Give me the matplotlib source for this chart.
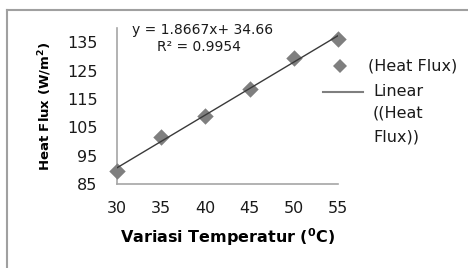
import matplotlib
matplotlib.use("Agg")
import matplotlib.pyplot as plt
import numpy as np
from matplotlib.lines import Line2D

# Data
temperature = [30, 35, 40, 45, 50, 55]
heat_flux = [89.5, 101.5, 109, 118.5, 129.5, 136]
y_ticks = [85, 95, 105, 115, 125, 135]
x_ticks = [30, 35, 40, 45, 50, 55]


def main():
    plt.rcParams['font.family'] = ['DejaVu Sans']
    W, H = 468, 268
    fig = plt.figure(figsize=(W / 100, H / 100), dpi=100)
    ax = fig.add_axes([117 / W, (H - 184) / H, (338 - 117) / W, (184 - 28) / H])

    # Scatter points and linear trend line
    ax.scatter(temperature, heat_flux, marker='D', s=70, color='#7f7f7f',
               zorder=3, clip_on=False, linewidths=0)
    slope, intercept = np.polyfit(temperature, heat_flux, 1)
    xs = np.array([temperature[0], temperature[-1]])
    ax.plot(xs, slope * xs + intercept, color='#3a3a3a', lw=1.0, zorder=4)

    ax.set_xlim(30, 55)
    ax.set_ylim(85, 140)
    ax.set_xticks(x_ticks)
    ax.set_yticks(y_ticks)
    ax.tick_params(length=0, labelsize=11.5, colors='#1a1a1a')
    ax.tick_params(axis='y', pad=14)
    ax.tick_params(axis='x', pad=12)
    for side in ['top', 'right']:
        ax.spines[side].set_visible(False)
    for side in ['left', 'bottom']:
        ax.spines[side].set_color('#a6a6a6')
        ax.spines[side].set_linewidth(1.2)

    ax.set_xlabel('Variasi Temperatur ($^{\\mathbf{0}}$C)', fontsize=11.5,
                  fontweight='bold', labelpad=8)
    ax.set_ylabel('Heat Flux (W/m$^{\\mathbf{2}}$)', fontsize=9.5,
                  fontweight='bold', labelpad=9)

    # Trendline equation
    fig.text(203 / W, 1 - 30 / H, 'y = 1.8667x+ 34.66', fontsize=10,
             ha='center', va='center', color='#1a1a1a')
    fig.text(199 / W, 1 - 47 / H, 'R² = 0.9954', fontsize=10,
             ha='center', va='center', color='#1a1a1a')

    # Manual legend
    fig.add_artist(Line2D([340 / W], [1 - 66 / H], marker='D', markersize=7,
                          color='#7f7f7f', markeredgewidth=0, linestyle='none'))
    fig.add_artist(Line2D([323 / W, 363 / W], [1 - 92 / H, 1 - 92 / H],
                          color='#7f7f7f', lw=1.5))
    fig.text(368 / W, 1 - 66 / H, '(Heat Flux)', fontsize=11.5, va='center',
             color='#1a1a1a')
    for text, y in [('Linear', 92), ('((Heat', 113), ('Flux))', 137)]:
        fig.text(373 / W, 1 - y / H, text, fontsize=11.5, va='center',
                 color='#1a1a1a')

    # Outer chart frame (top and left edges visible)
    fig.add_artist(Line2D([7 / W, 1], [1 - 10 / H, 1 - 10 / H],
                          color='#a0a0a0', lw=1.5))
    fig.add_artist(Line2D([7 / W, 7 / W], [0, 1 - 10 / H],
                          color='#a0a0a0', lw=1.5))

    fig.savefig('out.png', dpi=100)


if __name__ == '__main__':
    main()
